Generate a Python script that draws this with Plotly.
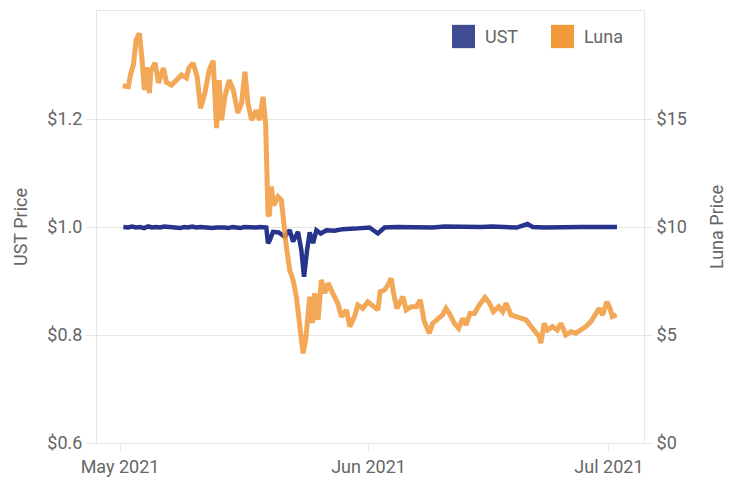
import plotly.graph_objects as go

# UST price (USD)
ust_dates = [
    "2021-05-01 10:00", "2021-05-02 00:00", "2021-05-02 12:00", "2021-05-03 00:00",
    "2021-05-03 12:00", "2021-05-04 00:00", "2021-05-04 12:00", "2021-05-05 00:00",
    "2021-05-05 12:00", "2021-05-06 00:00", "2021-05-06 12:00", "2021-05-07 00:00",
    "2021-05-07 12:00", "2021-05-08 00:00", "2021-05-08 12:00", "2021-05-09 00:00",
    "2021-05-09 12:00", "2021-05-10 00:00", "2021-05-10 12:00", "2021-05-11 00:00",
    "2021-05-11 12:00", "2021-05-12 00:00", "2021-05-12 12:00", "2021-05-13 00:00",
    "2021-05-13 12:00", "2021-05-14 00:00", "2021-05-14 12:00", "2021-05-15 00:00",
    "2021-05-15 12:00", "2021-05-16 00:00", "2021-05-16 12:00", "2021-05-17 00:00",
    "2021-05-17 12:00", "2021-05-18 00:00", "2021-05-18 12:00", "2021-05-19 06:00",
    "2021-05-19 11:00", "2021-05-19 16:00", "2021-05-20 02:00", "2021-05-20 19:00",
    "2021-05-21 13:00", "2021-05-22 04:00", "2021-05-22 14:00", "2021-05-23 05:00",
    "2021-05-23 15:00", "2021-05-23 23:00", "2021-05-24 08:00", "2021-05-24 16:00",
    "2021-05-25 02:00", "2021-05-25 12:00", "2021-05-26 01:00", "2021-05-26 18:00",
    "2021-05-27 18:00", "2021-05-28 19:00", "2021-05-30 06:00", "2021-06-01 03:00",
    "2021-06-02 04:00", "2021-06-03 00:00", "2021-06-04 12:00", "2021-06-06 00:00",
    "2021-06-07 12:00", "2021-06-09 00:00", "2021-06-10 12:00", "2021-06-12 00:00",
    "2021-06-13 12:00", "2021-06-15 00:00", "2021-06-16 12:00", "2021-06-18 00:00",
    "2021-06-19 12:00", "2021-06-20 20:00", "2021-06-21 12:00", "2021-06-23 00:00",
    "2021-06-24 12:00", "2021-06-26 00:00", "2021-06-27 12:00", "2021-06-29 00:00",
    "2021-06-30 12:00", "2021-07-02 00:00",
]
ust_price = [
    1.000, 0.999, 1.001, 0.999, 1.000, 0.998, 1.001, 0.999,
    1.000, 0.999, 1.001, 1.000, 0.999, 1.000, 0.998, 1.000,
    0.999, 1.001, 0.999, 1.000, 0.999, 1.000, 0.998, 0.999,
    1.000, 0.999, 0.998, 1.000, 0.999, 0.998, 1.000, 0.999,
    0.998, 0.999, 1.000, 0.999,
    0.970, 0.975, 0.991, 0.990,
    0.982, 0.994, 0.973, 0.991,
    0.957, 0.908, 0.957, 0.990,
    0.970, 0.994, 0.988, 0.994,
    0.993, 0.996, 0.997, 0.999,
    0.988, 0.999, 1.000, 0.999,
    1.000, 0.999, 1.001, 1.000,
    0.999, 1.000, 1.001, 1.000,
    0.999, 1.0055, 1.000, 0.999,
    1.000, 0.999, 1.000, 1.000,
    0.999, 1.000,
]

# Luna price (USD)
luna_dates = [
    "2021-05-01 08:00", "2021-05-02 01:00", "2021-05-02 08:00", "2021-05-02 16:00",
    "2021-05-03 00:00", "2021-05-03 10:00", "2021-05-03 17:00", "2021-05-04 01:00",
    "2021-05-04 08:00", "2021-05-04 16:00", "2021-05-04 20:00", "2021-05-05 09:00",
    "2021-05-05 19:00", "2021-05-06 10:00", "2021-05-06 19:00", "2021-05-07 10:00",
    "2021-05-08 01:00", "2021-05-08 16:00", "2021-05-09 07:00", "2021-05-09 14:00",
    "2021-05-10 03:00", "2021-05-10 15:00", "2021-05-11 01:00", "2021-05-11 14:00",
    "2021-05-12 03:00", "2021-05-12 15:00", "2021-05-13 01:00", "2021-05-13 09:00",
    "2021-05-13 16:00", "2021-05-14 02:00", "2021-05-14 15:00", "2021-05-15 03:00",
    "2021-05-15 17:00", "2021-05-16 04:00", "2021-05-16 14:00", "2021-05-16 23:00",
    "2021-05-17 10:00", "2021-05-18 00:00", "2021-05-18 10:00", "2021-05-18 20:00",
    "2021-05-19 04:00", "2021-05-19 06:00", "2021-05-19 11:00", "2021-05-19 15:00",
    "2021-05-19 21:00", "2021-05-20 04:00", "2021-05-20 17:00", "2021-05-21 03:00",
    "2021-05-21 08:00", "2021-05-21 18:00", "2021-05-22 04:00", "2021-05-22 14:00",
    "2021-05-23 00:00", "2021-05-23 08:00", "2021-05-23 15:00", "2021-05-23 20:00",
    "2021-05-24 04:00", "2021-05-24 11:00", "2021-05-24 16:00", "2021-05-25 00:00",
    "2021-05-25 07:00", "2021-05-25 17:00", "2021-05-26 03:00", "2021-05-26 13:00",
    "2021-05-26 23:00", "2021-05-27 13:00", "2021-05-28 04:00", "2021-05-28 15:00",
    "2021-05-29 06:00", "2021-05-29 16:00", "2021-05-30 06:00", "2021-05-30 16:00",
    "2021-05-31 07:00", "2021-05-31 22:00", "2021-06-01 13:00", "2021-06-02 04:00",
    "2021-06-02 11:00", "2021-06-03 00:00", "2021-06-03 10:00", "2021-06-03 20:00",
    "2021-06-04 03:00", "2021-06-04 13:00", "2021-06-04 21:00", "2021-06-05 07:00",
    "2021-06-05 17:00", "2021-06-06 08:00", "2021-06-06 23:00", "2021-06-07 11:00",
    "2021-06-07 23:00", "2021-06-08 14:00", "2021-06-09 00:00", "2021-06-09 15:00",
    "2021-06-10 06:00", "2021-06-10 16:00", "2021-06-11 02:00", "2021-06-11 17:00",
    "2021-06-12 06:00", "2021-06-12 18:00", "2021-06-13 04:00", "2021-06-13 16:00",
    "2021-06-14 05:00", "2021-06-14 20:00", "2021-06-15 13:00", "2021-06-16 02:00",
    "2021-06-16 14:00", "2021-06-17 06:00", "2021-06-17 18:00", "2021-06-18 04:00",
    "2021-06-18 19:00", "2021-06-19 10:00", "2021-06-20 01:00", "2021-06-20 16:00",
    "2021-06-21 07:00", "2021-06-21 21:00", "2021-06-22 07:00", "2021-06-22 12:00",
    "2021-06-22 22:00", "2021-06-23 08:00", "2021-06-23 23:00", "2021-06-24 13:00",
    "2021-06-25 00:00", "2021-06-25 15:00", "2021-06-26 06:00", "2021-06-26 21:00",
    "2021-06-27 12:00", "2021-06-28 03:00", "2021-06-28 18:00", "2021-06-29 09:00",
    "2021-06-29 19:00", "2021-06-30 05:00", "2021-06-30 18:00", "2021-07-01 03:00",
    "2021-07-01 10:00", "2021-07-01 23:00",
]
luna_price = [
    16.54, 16.50, 17.10, 17.50,
    18.66, 18.97, 17.90, 16.34,
    17.40, 16.20, 17.20, 17.60,
    16.67, 17.36, 16.70, 16.57,
    16.80, 17.04, 16.90, 17.36,
    17.58, 16.95, 15.50, 16.20,
    17.27, 17.70, 14.58, 16.80,
    14.95, 16.03, 16.80, 16.34,
    15.28, 15.74, 17.19, 15.74,
    14.95, 15.40, 14.95, 16.03,
    14.80, 13.90, 10.60, 10.50,
    11.87, 11.00, 11.40, 11.25,
    10.30, 9.09, 8.00, 7.55,
    6.77, 5.55, 4.46, 4.15,
    4.77, 6.00, 6.77, 5.55,
    6.93, 5.70, 7.55, 6.93,
    7.40, 6.93, 6.47, 5.85,
    6.16, 5.39, 5.85, 6.39,
    6.23, 6.54, 6.31, 6.16,
    7.00, 7.08, 7.31, 7.62,
    6.93, 6.23, 6.47, 6.77,
    6.16, 6.31, 6.31, 6.62,
    5.62, 5.08, 5.54, 5.70,
    5.93, 6.23, 6.00, 5.54,
    5.31, 5.77, 5.47, 6.00,
    6.00, 6.39, 6.74, 6.47,
    6.08, 6.31, 6.08, 6.47,
    5.93, 5.85, 5.77, 5.70,
    5.39, 5.16, 4.93, 4.62,
    5.54, 5.23, 5.39, 5.23,
    5.54, 5.00, 5.16, 5.08,
    5.23, 5.39, 5.62, 6.00,
    6.23, 5.93, 6.54, 6.23,
    5.85, 5.93,
]

month_ticks = ["2021-05-01", "2021-06-01", "2021-07-01"]
month_labels = ["May 2021", "Jun 2021", "Jul 2021"]
ust_ticks = [0.6, 0.8, 1.0, 1.2]
luna_ticks = [0, 5, 10, 15]

ust_color = "#27348b"
luna_color = "#f09a3a"
text_color = "#666666"
grid_color = "#e6e6e6"

fig = go.Figure()
fig.add_trace(go.Scatter(x=ust_dates, y=ust_price, name="UST", mode="lines",
                         line=dict(color=ust_color, width=4.5), showlegend=False))
fig.add_trace(go.Scatter(x=luna_dates, y=luna_price, name="Luna", mode="lines",
                         line=dict(color=luna_color, width=5), opacity=0.85,
                         yaxis="y2", showlegend=False))

# legend drawn as square swatches
legend_items = [("UST", "#3f4c92", 0.649), ("Luna", "#f09a3a", 0.830)]
for label, color, x0 in legend_items:
    fig.add_shape(type="rect", xref="paper", yref="paper",
                  x0=x0, x1=x0 + 0.042, y0=0.914, y1=0.968,
                  fillcolor=color, line=dict(width=0))
    fig.add_annotation(xref="paper", yref="paper", x=x0 + 0.057, y=0.941,
                       text=label, showarrow=False, xanchor="left",
                       yanchor="middle", font=dict(size=18, color=text_color))

axis_font = dict(family="Roboto", size=18, color=text_color)

# the page body adds an 8px offset, so the figure is 8px smaller on each side
fig.update_layout(
    width=732, height=469,
    margin=dict(l=89, r=96, t=3, b=34),
    paper_bgcolor="white", plot_bgcolor="white",
    font=axis_font,
    xaxis=dict(
        type="date", range=["2021-04-28 03:00", "2021-07-05 09:00"],
        tickvals=month_ticks, ticktext=month_labels, automargin=False,
        showgrid=False, ticks="outside", ticklen=7, tickcolor=grid_color,
        showline=True, linecolor=grid_color, mirror=True, zeroline=False,
        tickfont=axis_font,
    ),
    yaxis=dict(
        range=[0.6, 1.4], tickvals=ust_ticks, tickformat="$.1f",
        automargin=False,
        showgrid=True, gridcolor=grid_color, ticks="outside", ticklen=10,
        tickcolor=grid_color, showline=True, linecolor=grid_color,
        zeroline=False, tickfont=axis_font,
        title=dict(text="UST Price", font=axis_font, standoff=14),
    ),
    yaxis2=dict(
        range=[0, 20], tickvals=luna_ticks, tickformat="$,d",
        overlaying="y", side="right", showgrid=False, automargin=False,
        ticks="outside", ticklen=8, tickcolor=grid_color,
        showline=True, linecolor=grid_color, zeroline=False, tickfont=axis_font,
        title=dict(text="Luna Price", font=axis_font, standoff=24),
    ),
)

fig.write_html("out.html")
